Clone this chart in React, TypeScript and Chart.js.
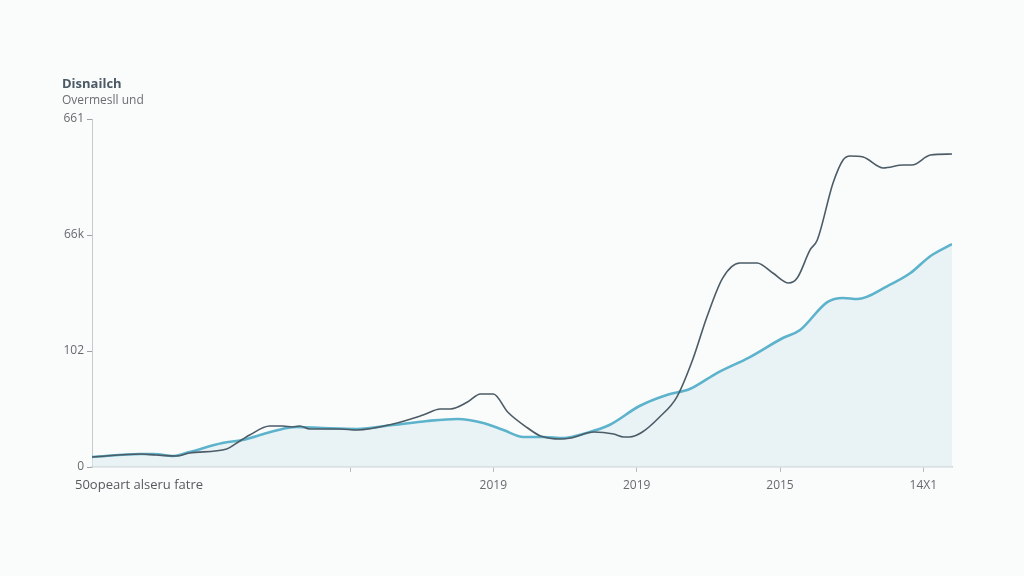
import React, { useEffect, useRef } from "react";
import { Chart, registerables } from "chart.js";

Chart.register(...registerables);

const titleText = "Disnailch";
const subtitleText = "Overmesll und";
const xAxisCaption = "50opeart alseru fatre";

const yTickValues = [0, 100, 200, 300];
const yTickLabels = ["0", "102", "66k", "661"];

const xTickValues = [18, 28, 38, 48, 58];
const xTickLabels = ["", "2019", "2019", "2015", "14X1"];

const darkX = [0, 3.4, 4.5, 5.9, 6.8, 9.4, 10.1, 11.0, 12.4, 13.3, 14.0, 14.5, 15.2, 17.3, 18.5, 21.0, 23.1, 24.3, 25.0, 26.2, 27.1, 28.0, 29.0, 30.4, 31.3, 32.7, 33.4, 35.0, 36.4, 37.1, 37.5, 38.4, 39.6, 40.8, 41.9, 42.9, 44.0, 45.2, 46.4, 47.5, 48.6, 49.2, 50.1, 50.6, 51.7, 52.4, 52.9, 53.8, 55.2, 56.6, 57.2, 58.5, 60];
const darkY = [8.6, 11.2, 10.3, 9.5, 12.1, 15.5, 20.7, 27.6, 35.3, 35.3, 34.5, 35.3, 32.8, 32.8, 31.9, 37.1, 44.8, 50.0, 50.0, 56.0, 62.9, 62.9, 47.4, 33.6, 26.7, 24.1, 25.0, 30.2, 28.4, 25.9, 25.9, 30.2, 43.1, 60.3, 92.2, 129.3, 162.9, 175.9, 175.9, 167.2, 158.6, 162.9, 187.1, 195.7, 244.8, 264.7, 268.1, 267.2, 257.8, 260.3, 260.3, 268.9, 269.8];

const blueX = [0, 3.4, 4.3, 5.7, 6.8, 9.1, 10.5, 12.2, 13.6, 14.3, 16.1, 18.5, 21.0, 23.4, 25.5, 27.3, 28.7, 30.1, 31.5, 32.9, 34.5, 36.1, 38.2, 40.1, 41.7, 43.6, 45.9, 48.2, 49.4, 51.3, 52.4, 53.4, 55.5, 57.1, 58.5, 60];
const blueY = [8.6, 11.2, 11.2, 9.5, 12.9, 20.7, 23.3, 29.3, 33.6, 34.5, 33.6, 32.8, 36.2, 39.7, 41.4, 37.9, 31.9, 25.9, 25.9, 25.0, 29.3, 36.2, 52.6, 62.1, 67.2, 81.0, 94.8, 111.2, 118.1, 142.2, 145.7, 144.8, 156.0, 167.2, 181.9, 192.2];

const FONT = "'Open Sans', 'DejaVu Sans', sans-serif";

export default function App() {
  const ref = useRef<HTMLCanvasElement | null>(null);

  useEffect(() => {
    if (!ref.current) return;
    const textPlugin = {
      id: "texts",
      afterDraw(chart: any) {
        const ctx = chart.ctx;
        ctx.save();
        ctx.textBaseline = "middle";
        ctx.textAlign = "left";
        ctx.fillStyle = "#4b5a66";
        ctx.font = `bold 13px ${FONT}`;
        ctx.fillText(titleText, 62, 84);
        ctx.fillStyle = "#6a6f73";
        ctx.font = `12px ${FONT}`;
        ctx.fillText(subtitleText, 62, 101);
        ctx.fillStyle = "#555a5e";
        ctx.font = `13px ${FONT}`;
        ctx.fillText(xAxisCaption, 75, 485);
        ctx.restore();
      },
    };

    const chart = new Chart(ref.current, {
      type: "line",
      data: {
        datasets: [
          {
            label: "dark",
            data: darkX.map((x, i) => ({ x, y: darkY[i] })),
            borderColor: "#4c5c66",
            borderWidth: 1.6,
            pointRadius: 0,
            fill: false,
            cubicInterpolationMode: "monotone",
          },
          {
            label: "blue",
            data: blueX.map((x, i) => ({ x, y: blueY[i] })),
            borderColor: "#5db3cc",
            borderWidth: 2.6,
            pointRadius: 0,
            fill: "origin",
            backgroundColor: "rgba(218,236,240,0.55)",
            cubicInterpolationMode: "monotone",
          },
        ],
      },
      options: {
        animation: false,
        responsive: false,
        maintainAspectRatio: false,
        layout: { padding: { left: 0, right: 72, top: 119, bottom: 0 } },
        plugins: { legend: { display: false }, tooltip: { enabled: false }, title: { display: false } },
        scales: {
          x: {
            type: "linear",
            min: 0,
            max: 60,
            afterFit: (s: any) => { s.height = 109; },
            afterBuildTicks: (s: any) => { s.ticks = xTickValues.map((v) => ({ value: v })); },
            ticks: {
              callback: (v: any) => { const i = xTickValues.indexOf(Number(v)); return i >= 0 ? xTickLabels[i] : ""; },
              color: "#666b6f",
              font: { family: FONT, size: 12 },
              padding: 6,
              maxRotation: 0,
            },
            grid: { drawOnChartArea: false, drawTicks: true, tickLength: 5, color: "#b8bcbf" },
            border: { display: true, color: "#cfd3d5", width: 1.5 },
          },
          y: {
            type: "linear",
            min: 0,
            max: 300,
            afterFit: (s: any) => { s.width = 92; },
            afterBuildTicks: (s: any) => { s.ticks = yTickValues.map((v) => ({ value: v })); },
            ticks: {
              callback: (v: any) => { const i = yTickValues.indexOf(Number(v)); return i >= 0 ? yTickLabels[i] : ""; },
              color: "#666b6f",
              font: { family: FONT, size: 12 },
              padding: 3,
            },
            grid: { drawOnChartArea: false, drawTicks: true, tickLength: 5, color: "#9aa0a4" },
            border: { display: true, color: "#c6cacc", width: 1 },
          },
        },
      },
      plugins: [textPlugin],
    } as any);
    return () => chart.destroy();
  }, []);

  return (
    <div style={{ position: "absolute", left: 0, top: 0, width: 1024, height: 576, background: "#fafbfb" }}>
      <canvas ref={ref} width={1024} height={576} style={{ width: 1024, height: 576, display: "block" }} />
    </div>
  );
}
